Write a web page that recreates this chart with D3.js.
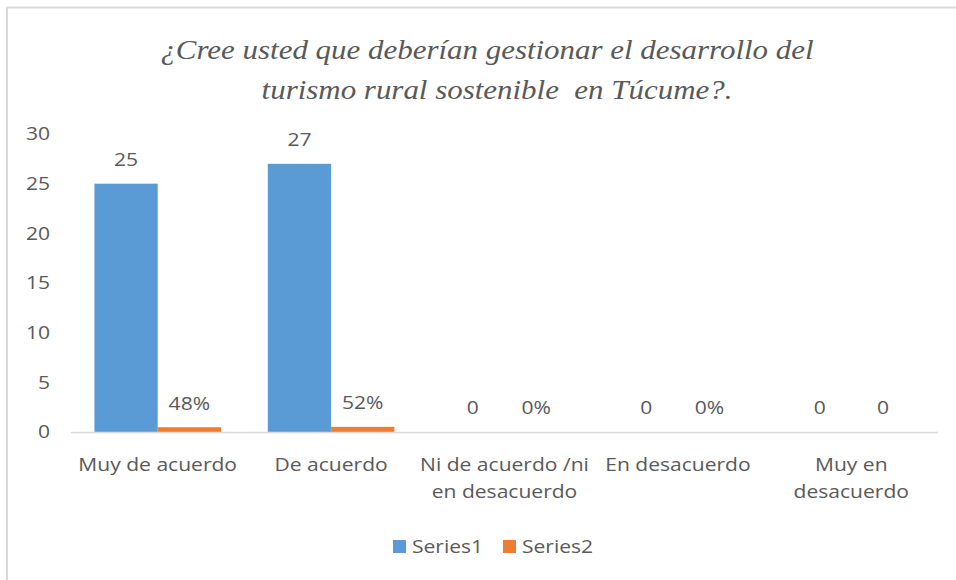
<!DOCTYPE html>
<html><head><meta charset="utf-8">
<script src="https://cdn.jsdelivr.net/npm/d3@7"></script>
<style>body{margin:0;background:#fff}svg{display:block}</style>
</head><body>
<script>
const categories = ["Muy de acuerdo", "De acuerdo", "Ni de acuerdo /ni en desacuerdo", "En desacuerdo", "Muy en desacuerdo"];
const categoryLines = [["Muy de acuerdo"], ["De acuerdo"], ["Ni de acuerdo /ni", "en desacuerdo"], ["En desacuerdo"], ["Muy en", "desacuerdo"]];
const series1 = [25, 27, 0, 0, 0];
const series2 = [0.48, 0.52, 0, 0, 0];
const series1Labels = ["25", "27", "0", "0", "0"];
const series2Labels = ["48%", "52%", "0%", "0%", "0"];
const seriesNames = ["Series1", "Series2"];
const yTicks = [0, 5, 10, 15, 20, 25, 30];
const titleLines = ["¿Cree usted que deberían gestionar el desarrollo del", "turismo rural sostenible\u00a0 en Túcume?."];

const W = 956, H = 580;
const colors = ["#5B9BD5", "#ED7D31"];
const textColor = "#595959";
const SX = 1.17; // horizontal stretch of the sans text
const svg = d3.select("body").append("svg").attr("width", W).attr("height", H);

// frame
svg.append("line").attr("x1", 7).attr("x2", 7).attr("y1", 7).attr("y2", H).attr("stroke", "#d9d9d9").attr("stroke-width", 2);
svg.append("line").attr("x1", 7).attr("x2", W).attr("y1", 7.5).attr("y2", 7.5).attr("stroke", "#d9d9d9").attr("stroke-width", 2);

// title (serif italic, horizontally stretched)
const TSX = 1.105;
const titleX = [487, 497];
svg.append("g").selectAll("text").data(titleLines).join("text")
  .attr("transform", (d, i) => `translate(${titleX[i]},${59 + i * 40}) scale(${TSX},1)`)
  .attr("text-anchor", "middle")
  .style("font-family", '"Liberation Serif"')
  .style("font-style", "italic").style("font-size", "28px")
  .attr("fill", textColor)
  .text(d => d);

const x0 = d3.scaleBand().domain(categories).range([71, 938]).paddingInner(0).paddingOuter(0);
const y = d3.scaleLinear().domain([0, 30]).range([432, 134]);
const groupPad = 0.135;
const x1 = d3.scaleBand().domain([0, 1]).range([x0.bandwidth() * groupPad, x0.bandwidth() * (1 - groupPad)]);

const font = '"Open Sans"';
function label(sel, anchor) {
  return sel.style("font-family", font).style("font-size", "18px").attr("fill", textColor).attr("text-anchor", anchor);
}

// y tick labels
label(svg.append("g").selectAll("text").data(yTicks).join("text"), "end")
  .attr("transform", d => `translate(50,${y(d)}) scale(${SX},1)`).attr("dy", "0.35em")
  .text(d => d);

// bars
const data = categories.map((c, i) => ({c, vals: [series1[i], series2[i]], labels: [series1Labels[i], series2Labels[i]]}));
const g = svg.append("g").selectAll("g").data(data).join("g").attr("transform", d => `translate(${x0(d.c)},0)`);
g.selectAll("rect").data(d => d.vals.map((v, k) => ({v, k}))).join("rect")
  .attr("x", d => x1(d.k)).attr("width", x1.bandwidth())
  .attr("y", d => y(d.v)).attr("height", d => y(0) - y(d.v))
  .attr("fill", d => colors[d.k]);
label(g.selectAll("text").data(d => d.labels.map((t, k) => ({t, k, v: d.vals[k]}))).join("text"), "middle")
  .attr("transform", d => `translate(${x1(d.k) + x1.bandwidth() / 2},${y(d.v) - 24}) scale(${SX},1)`)
  .attr("dy", "0.35em")
  .text(d => d.t);

// x axis line
svg.append("line").attr("x1", 71).attr("x2", 938).attr("y1", y(0) + 0.5).attr("y2", y(0) + 0.5)
  .attr("stroke", "#d9d9d9").attr("stroke-width", 1.5);

// category labels
const cl = label(svg.append("g").selectAll("text").data(categories).join("text"), "middle")
  .attr("transform", d => `translate(${x0(d) + x0.bandwidth() / 2},471) scale(${SX},1)`);
cl.each(function(d, i) {
  d3.select(this).selectAll("tspan").data(categoryLines[i]).join("tspan")
    .attr("x", 0).attr("y", (t, j) => j * 27).text(t => t);
});

// legend
const legendX = [393, 503];
const lg = svg.append("g").selectAll("g").data(seriesNames).join("g")
  .attr("transform", (d, i) => `translate(${legendX[i]},540)`);
lg.append("rect").attr("width", 13).attr("height", 13).attr("fill", (d, i) => colors[i]);
label(lg.append("text"), "start").attr("transform", `translate(19,6.5) scale(${SX},1)`).attr("dy", "0.35em").text(d => d);
</script>
</body></html>
